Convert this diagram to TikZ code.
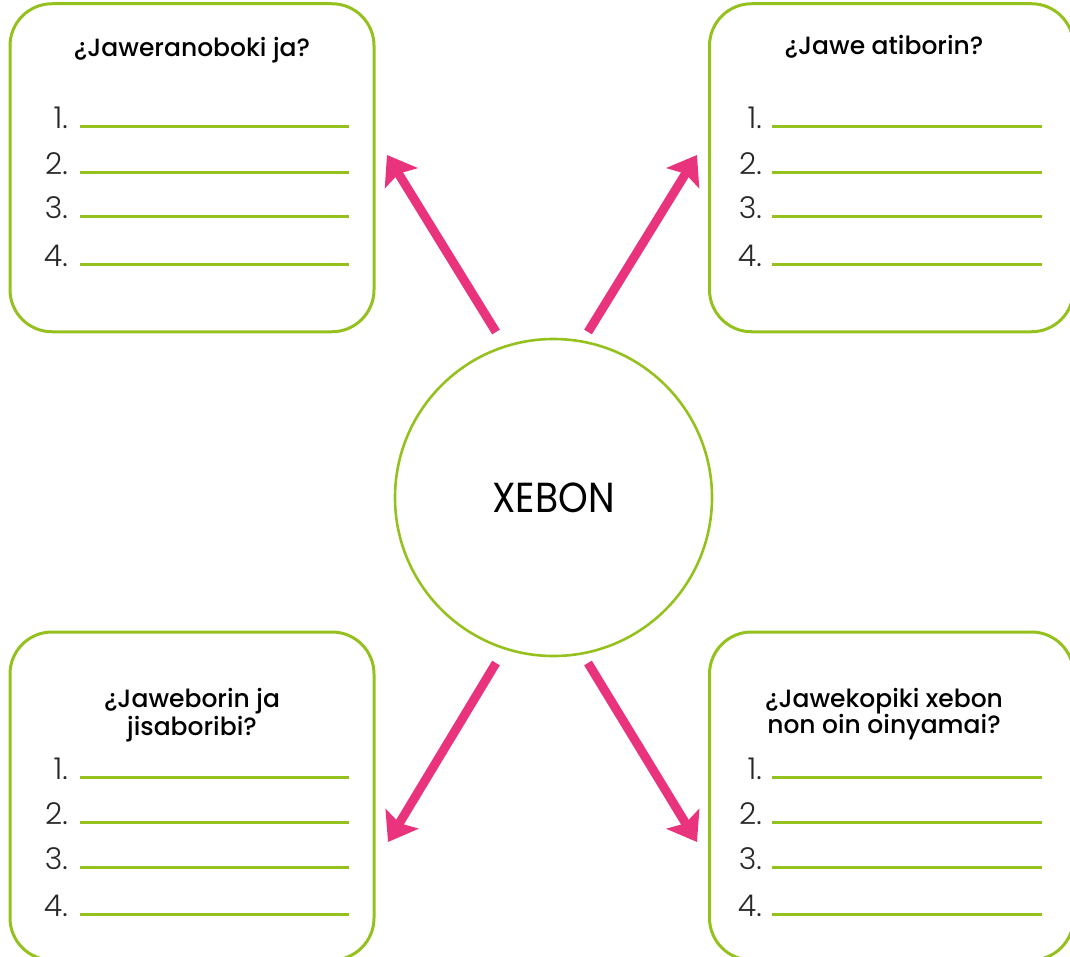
\documentclass[tikz,border=0pt]{standalone}
\usepackage{fontspec}
\setmainfont{Poppins}
\newfontfamily\numfont{Poppins Light}
\newfontfamily\headfont{Poppins Medium}
\newfontfamily\hubfont{Poppins}[FakeStretch=0.9]
\usetikzlibrary{arrows.meta}
\definecolor{leaf}{RGB}{149,193,31}
\definecolor{berry}{RGB}{233,52,125}
\definecolor{ink}{RGB}{40,40,40}
\begin{document}
\begin{tikzpicture}[x=1pt,y=-1pt,
  card/.style={draw=leaf, line width=3pt, rounded corners=42pt,
    minimum width=364pt, minimum height=328pt, inner sep=0pt},
  hub/.style={draw=leaf, line width=2.6pt, circle, minimum size=317pt, inner sep=0pt,
    font=\hubfont\fontsize{42}{42}\selectfont},
  heading/.style={anchor=base, inner sep=0pt, font=\headfont\fontsize{25}{28}\selectfont},
  num/.style={anchor=base east, inner sep=0pt, text=ink, font=\numfont\fontsize{30}{30}\selectfont},
  blank/.style={draw=leaf, line width=3pt},
  pointer/.style={draw=berry, line width=9pt,
    -{Stealth[length=27pt,width=38pt,inset=5pt]}}]
\useasboundingbox (0,0) rectangle (1070,957);
\clip (0,0) rectangle (1070,957);

% four question cards
\node[card] (cardTL) at (192,167.75) {};
\node[card] (cardTR) at (891.5,167.75) {};
\node[card] (cardBL) at (192,796) {};
\node[card] (cardBR) at (891.5,796) {};

% central topic
\node[hub] (hub) at (553.5,497.5) {XEBON};

% card headings
\node[heading] (hTL) at (192,57) {¿Jaweranoboki ja?};
\node[heading] (hTR) at (884,55) {¿Jawe atiborin?};
\node[heading] (hBLa) at (192,707) {¿Jaweborin ja};
\node[heading] (hBLb) at (192,735) {jisaboribi?};
\node[heading] (hBRa) at (884,707) {¿Jawekopiki xebon};
\node[heading] (hBRb) at (884,733) {non oin oinyamai?};

% numbered answer lines
\foreach \k/\y in {1/127,2/173,3/217,4/265}{
  \node[num] (nTL\k) at (68,\y+2) {\k.};
  \coordinate (aTL\k) at (80,\y);
  \coordinate (bTL\k) at (349,\y);
  \draw[blank] (aTL\k) -- (bTL\k);
  \node[num] (nTR\k) at (762,\y+2) {\k.};
  \coordinate (aTR\k) at (772,\y);
  \coordinate (bTR\k) at (1042,\y);
  \draw[blank] (aTR\k) -- (bTR\k);
}
\foreach \k/\y in {1/777,2/822,3/867,4/914}{
  \node[num] (nBL\k) at (68,\y+2) {\k.};
  \coordinate (aBL\k) at (80,\y);
  \coordinate (bBL\k) at (349,\y);
  \draw[blank] (aBL\k) -- (bBL\k);
  \node[num] (nBR\k) at (762,\y+2) {\k.};
  \coordinate (aBR\k) at (772,\y);
  \coordinate (bBR\k) at (1042,\y);
  \draw[blank] (aBR\k) -- (bBR\k);
}

% arrows from the topic towards each card
\coordinate (tTL) at (496,332);
\coordinate (pTL) at (387,155);
\coordinate (tTR) at (588,332);
\coordinate (pTR) at (697,155);
\coordinate (tBL) at (496,663);
\coordinate (pBL) at (388,842);
\coordinate (tBR) at (588,663);
\coordinate (pBR) at (697,842);
\draw[pointer] (tTL) -- (pTL);
\draw[pointer] (tTR) -- (pTR);
\draw[pointer] (tBL) -- (pBL);
\draw[pointer] (tBR) -- (pBR);
\end{tikzpicture}
\end{document}
